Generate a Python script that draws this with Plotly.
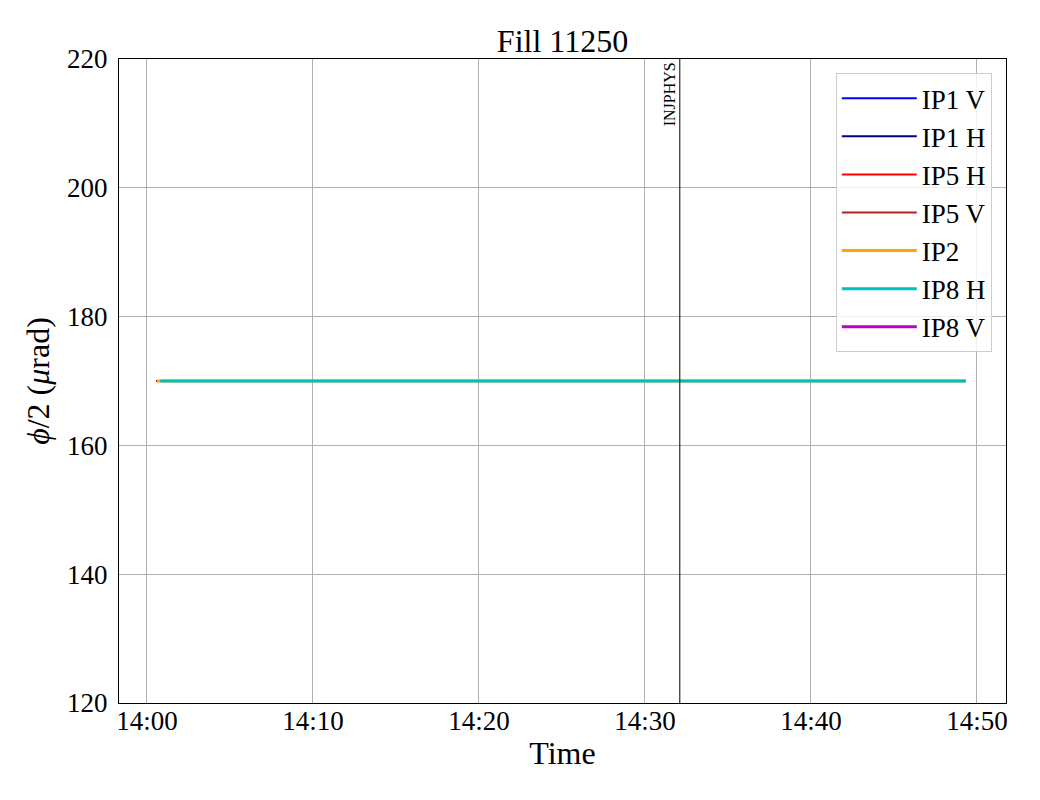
import plotly.graph_objects as go

series_names = ["IP1 V", "IP1 H", "IP5 H", "IP5 V", "IP2", "IP8 H", "IP8 V"]
series_colors = ["#0000ff", "#00008b", "#ff0000", "#b22222", "#ffa500", "#00bfbf", "#bf00bf"]
series_widths = [2, 2, 2, 2, 3, 3, 3]
series_times = [
    ["2024-05-01 14:00:34", "2024-05-01 14:49:20"],
    ["2024-05-01 14:00:34", "2024-05-01 14:49:20"],
    ["2024-05-01 14:00:34", "2024-05-01 14:49:20"],
    ["2024-05-01 14:00:34", "2024-05-01 14:49:20"],
    ["2024-05-01 14:00:36", "2024-05-01 14:49:20"],
    ["2024-05-01 14:00:48", "2024-05-01 14:49:20"],
    ["2024-05-01 14:00:48", "2024-05-01 14:49:20"],
]
series_values = [
    [170, 170],
    [170, 170],
    [170, 170],
    [170, 170],
    [170, 170],
    [170, 170],
    [None, None],
]
event_time = "2024-05-01 14:32:06"
event_label = "INJPHYS"
x_range = ["2024-05-01 13:58:19", "2024-05-01 14:51:45"]
y_range = [120, 220]
y_tickvals = [120, 140, 160, 180, 200, 220]
x_tickvals = ["2024-05-01 14:00", "2024-05-01 14:10", "2024-05-01 14:20",
              "2024-05-01 14:30", "2024-05-01 14:40", "2024-05-01 14:50"]
x_ticktext = ["14:00", "14:10", "14:20", "14:30", "14:40", "14:50"]

FONT = "Liberation Serif"
OFF = 8  # page body margin offset

fig = go.Figure()
for name, color, w, t, v in zip(series_names, series_colors, series_widths, series_times, series_values):
    fig.add_trace(go.Scatter(x=t, y=v, mode="lines", name=name,
                             line=dict(color=color, width=w)))

fig.add_shape(type="line", x0=event_time, x1=event_time, xref="x",
              y0=0, y1=1, yref="paper", line=dict(color="black", width=1))
fig.add_annotation(x=event_time, y=1, xref="x", yref="paper", text=event_label,
                   textangle=-90, showarrow=False, xanchor="right", yanchor="top",
                   xshift=0, yshift=-1,
                   font=dict(family=FONT, size=16, color="black"))

fig.update_layout(
    width=1040, height=800,
    margin=dict(l=119 - OFF, r=34 + OFF, t=59 - OFF, b=97 + OFF),
    paper_bgcolor="white", plot_bgcolor="white",
    font=dict(family=FONT, size=27, color="black"),
    title=dict(text="Fill 11250", x=(119 - OFF + 887 / 2) / 1040, xanchor="center",
               y=1 - (41 - OFF) / 800, yanchor="middle", font=dict(size=32)),
    showlegend=True,
    legend=dict(x=0.984, xanchor="right", y=0.978, yanchor="top",
                bgcolor="rgba(255,255,255,0.8)", bordercolor="#cccccc", borderwidth=1,
                font=dict(family=FONT, size=27), tracegroupgap=0, itemwidth=75),
)
fig.update_xaxes(range=x_range, tickvals=x_tickvals, ticktext=x_ticktext,
                 showgrid=True, gridcolor="#b0b0b0", gridwidth=1,
                 showline=True, linecolor="black", linewidth=1, mirror=True,
                 ticks="", ticklabelstandoff=-6,
                 title=dict(text="Time", font=dict(size=32), standoff=6),
                 zeroline=False)
fig.update_yaxes(range=y_range, tickvals=y_tickvals,
                 showgrid=True, gridcolor="#b0b0b0", gridwidth=1,
                 showline=True, linecolor="black", linewidth=1, mirror=True,
                 ticks="outside", ticklen=5, tickcolor="rgba(0,0,0,0)",
                 title=dict(text="<i>ϕ</i>/2 (<i>μ</i>rad)", font=dict(size=32), standoff=7),
                 zeroline=False)

fig.write_html("out.html")
